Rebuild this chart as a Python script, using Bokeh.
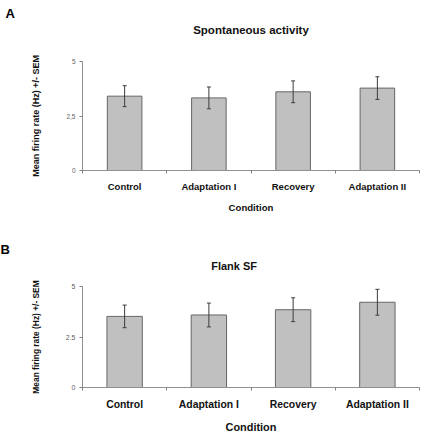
from bokeh.plotting import figure
from bokeh.models import (ColumnDataSource, Range1d, FixedTicker, Whisker, TeeHead, LinearAxis)
from bokeh.layouts import column
from bokeh.embed import file_html
from bokeh.resources import INLINE

categories = ["Control", "Adaptation I", "Recovery", "Adaptation II"]

# Panel A: Spontaneous activity
spont_mean = [3.41, 3.33, 3.61, 3.78]
spont_sem = [0.48, 0.50, 0.50, 0.52]

# Panel B: Flank SF
flank_mean = [3.52, 3.59, 3.85, 4.22]
flank_sem = [0.56, 0.59, 0.59, 0.64]

y_ticks = [0, 2.5, 5]
y_labels_a = ["0", "2,5", "5"]
y_labels_b = ["0", "2.5", "5"]

FONT = "Liberation Sans"


def make_panel(means, sems, title, title_x, letter, ylabels, height, borders, sz):
    n = len(categories)
    xs = [i + 0.5 for i in range(n)]
    src = ColumnDataSource(dict(
        x=xs, top=means,
        upper=[m + s for m, s in zip(means, sems)],
        lower=[m - s for m, s in zip(means, sems)],
    ))
    top, bottom, left, right = borders
    p = figure(width=429, height=height, output_backend="svg", toolbar_location=None,
               x_range=Range1d(0, n), y_range=Range1d(0, 5),
               min_border_top=top, min_border_bottom=bottom,
               min_border_left=left, min_border_right=right,
               background_fill_color="white", border_fill_color="white")
    p.outline_line_color = None
    p.grid.visible = False

    p.vbar(x="x", top="top", bottom=0, width=sz["bar"], source=src,
           fill_color="#c0c0c0", line_color="#666666", line_width=1)
    wh = Whisker(source=src, base="x", upper="upper", lower="lower",
                 line_color="#3c3c3c", line_width=1, level="overlay",
                 upper_head=TeeHead(size=4, line_color="#3c3c3c", line_width=1),
                 lower_head=TeeHead(size=4, line_color="#3c3c3c", line_width=1))
    p.add_layout(wh)

    xa = p.xaxis[0]
    xa.ticker = FixedTicker(ticks=xs, minor_ticks=list(range(n + 1)))
    xa.major_label_overrides = {x: c for x, c in zip(xs, categories)}
    xa.major_tick_out = 0
    xa.major_tick_in = 0
    xa.minor_tick_out = 3
    xa.minor_tick_in = 0
    xa.minor_tick_line_color = "#808080"
    xa.axis_line_color = "#909090"
    xa.major_label_text_font = FONT
    xa.major_label_text_font_style = "bold"
    xa.major_label_text_font_size = sz["cat"]
    xa.major_label_text_color = "#111111"
    xa.major_label_text_line_height = 1.0
    xa.major_label_standoff = sz["cat_standoff"]
    xa.axis_label = "Condition"
    xa.axis_label_text_font = FONT
    xa.axis_label_text_font_style = "bold"
    xa.axis_label_text_font_size = sz["xlab"]
    xa.axis_label_text_color = "#111111"
    xa.axis_label_text_line_height = 1.0
    xa.axis_label_standoff = sz["xlab_standoff"]

    ya = p.yaxis[0]
    ya.ticker = FixedTicker(ticks=y_ticks, minor_ticks=[])
    ya.major_label_overrides = {t: l for t, l in zip(y_ticks, ylabels)}
    ya.major_tick_out = 3
    ya.major_tick_in = 0
    ya.major_tick_line_color = "#808080"
    ya.axis_line_color = "#909090"
    ya.major_label_text_font = FONT
    ya.major_label_text_font_size = sz["ytick"]
    ya.major_label_text_color = "#606060"
    ya.major_label_standoff = 4
    ya.axis_label = "Mean firing rate (Hz) +/- SEM"
    ya.axis_label_text_font = FONT
    ya.axis_label_text_font_style = "bold"
    ya.axis_label_text_font_size = sz["ylab"]
    ya.axis_label_text_color = "#111111"
    ya.axis_label_standoff = sz["ylab_standoff"]

    # chart title, carried by an invisible axis above the frame
    ta = LinearAxis(ticker=FixedTicker(ticks=[title_x], minor_ticks=[]),
                    major_label_overrides={title_x: title},
                    axis_line_color=None, major_tick_line_color=None,
                    minor_tick_line_color=None, major_tick_out=0, major_tick_in=0,
                    major_label_standoff=sz["title_standoff"],
                    major_label_text_font=FONT, major_label_text_font_style="bold",
                    major_label_text_font_size=sz["title"],
                    major_label_text_color="#111111")
    p.add_layout(ta, "above")

    # panel letter
    p.title.text = letter
    p.title.align = "left"
    p.title.offset = -left
    p.title.text_font = FONT
    p.title.text_font_style = "bold"
    p.title.text_font_size = "13px"
    p.title.text_color = "#000000"
    p.title.standoff = 0
    return p


pa = make_panel(spont_mean, spont_sem, "Spontaneous activity", 2.0, "A", y_labels_a, 220,
                (61, 50, 77, 10),
                dict(bar=0.41, cat="9.5px", cat_standoff=7, xlab="9.6px", xlab_standoff=7,
                     ytick="6.5px", ylab="9px", ylab_standoff=22, title="11.5px",
                     title_standoff=26))
pb = make_panel(flank_mean, flank_sem, "Flank SF", 1.80, "B", y_labels_b, 215,
                (66, 48, 82, 1),
                dict(bar=0.42, cat="10.4px", cat_standoff=8, xlab="10.9px", xlab_standoff=8,
                     ytick="7px", ylab="8.4px", ylab_standoff=22, title="11px",
                     title_standoff=15))

layout = column(pa, pb, spacing=0)
open("out.html", "w").write(file_html(layout, INLINE))
